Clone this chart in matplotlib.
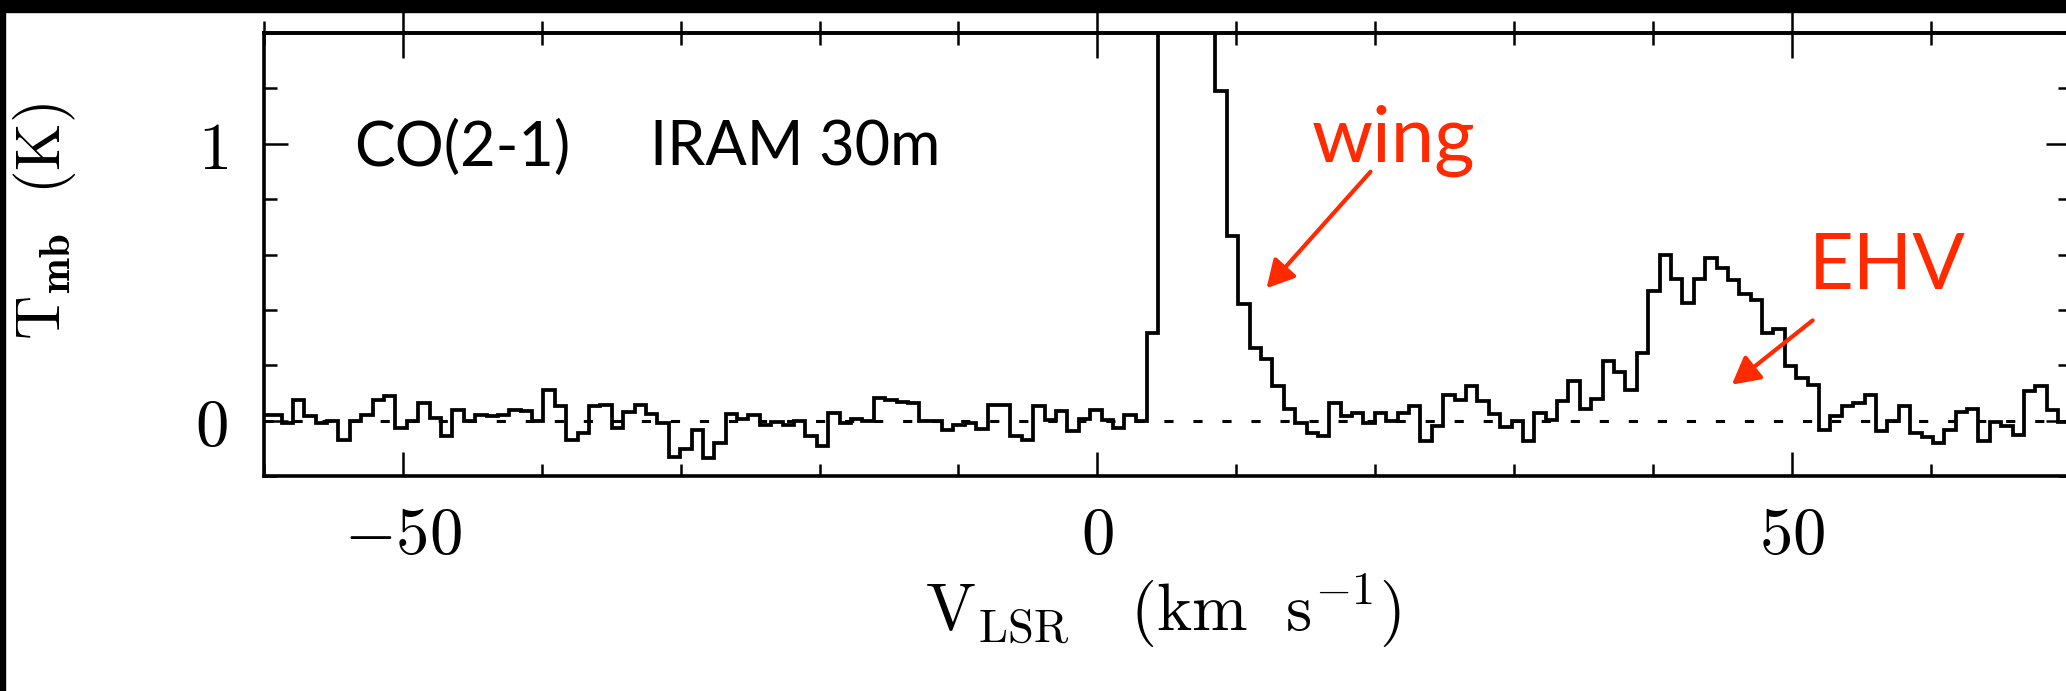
import numpy as np
import matplotlib
matplotlib.use("Agg")
import matplotlib.pyplot as plt
from matplotlib.patches import Rectangle
from matplotlib.ticker import MultipleLocator

# ---------------- data ----------------
v_start = -60.38      # km/s, left edge of first channel
dv = 0.82             # channel width, km/s
tmb = [
    0.020, 0.022, -0.008, 0.076, 0.016, -0.008, -0.002, -0.069, -0.002, 0.022,
    0.076, 0.090, -0.027, -0.002, 0.064, 0.010, -0.057, 0.040, 0.000, 0.022,
    0.016, 0.022, 0.040, 0.034, -0.002, 0.112, 0.052, -0.069, -0.045, 0.052,
    0.056, -0.027, 0.031, 0.058, 0.025, -0.008, -0.130, -0.103, -0.033, -0.136,
    -0.081, 0.025, 0.006, 0.022, -0.017, -0.006, -0.017, -0.002, -0.057, -0.093,
    0.028, -0.008, 0.006, 0.000, 0.082, 0.074, 0.068, 0.064, 0.000, -0.002,
    -0.033, -0.014, -0.008, -0.030, 0.056, 0.056, -0.054, -0.071, 0.052, 0.004,
    0.034, -0.039, 0.006, 0.040, 0.004, -0.027, 0.022, 0.000, 0.318, 1.900,
    3.600, 4.200, 3.400, 2.100, 1.190, 0.668, 0.420, 0.263, 0.221, 0.124,
    0.042, -0.008, -0.045, -0.054, 0.062, 0.016, 0.028, -0.008, 0.028, -0.002,
    0.028, 0.052, -0.072, -0.018, 0.092, 0.076, 0.124, 0.070, 0.025, -0.024,
    -0.002, -0.072, 0.028, 0.004, 0.070, 0.142, 0.042, 0.078, 0.215, 0.175,
    0.112, 0.243, 0.469, 0.598, 0.511, 0.426, 0.511, 0.586, 0.550, 0.507,
    0.457, 0.435, 0.315, 0.330, 0.197, 0.155, 0.127, -0.033, 0.016, 0.052,
    0.064, 0.094, -0.039, 0.000, 0.054, -0.045, -0.059, -0.081, -0.033, 0.030,
    0.042, -0.075, -0.006, -0.021, -0.051, 0.106, 0.124, 0.040, -0.006,
]
xlim = (-60, 70)
ylim = (-0.2, 1.4)
xticks = [-50, 0, 50]
xtick_labels = [r"$-50$", r"$0$", r"$50$"]
yticks = [0, 1]
ytick_labels = [r"$0$", r"$1$"]

RED = "#ff2a00"
plt.rcParams["mathtext.fontset"] = "cm"
plt.rcParams["font.family"] = ["Lato", "DejaVu Sans"]

W, H = 2066, 691
fig = plt.figure(figsize=(W / 100, H / 100), dpi=100)
ax_l, ax_r, ax_t, ax_b = 264, 2069.6, 33, 476
ax = fig.add_axes([ax_l / W, 1 - ax_b / H, (ax_r - ax_l) / W, (ax_b - ax_t) / H])

edges = v_start + dv * np.arange(len(tmb) + 1)
ax.stairs(tmb, edges, color="black", lw=2.7, baseline=None, zorder=3)
ax.axhline(0, color="black", lw=2.2, linestyle=(0, (3, 6.5)), zorder=2)

ax.set_xlim(*xlim)
ax.set_ylim(*ylim)
for s in ax.spines.values():
    s.set_linewidth(2.6)

ax.set_xticks(xticks)
ax.set_xticklabels(xtick_labels)
ax.set_yticks(yticks)
ax.set_yticklabels(ytick_labels)
ax.xaxis.set_minor_locator(MultipleLocator(10))
ax.yaxis.set_minor_locator(MultipleLocator(0.2))
ax.tick_params(which="both", direction="in", top=False, right=True, width=1.8,
               labelsize=48)
ax.tick_params(which="major", length=17)
ax.tick_params(which="minor", length=9)
ax.tick_params(axis="x", which="major", pad=20)
ax.tick_params(axis="y", which="major", pad=26)

top = ax.secondary_xaxis("top")
top.set_xticks(xticks)
top.xaxis.set_minor_locator(MultipleLocator(10))
top.tick_params(which="both", direction="inout", width=1.8, labeltop=False)
top.tick_params(which="major", length=36)
top.tick_params(which="minor", length=17)
top.spines["top"].set_linewidth(2.6)

# axis labels
fig.text(1163 / W, 1 - 611 / H,
         r"$\mathrm{V_{LSR}}\quad(\mathrm{km\ \ s^{-1}})$",
         ha="center", va="center", fontsize=48)
fig.text(45 / W, 1 - 221 / H,
         r"$\mathrm{T_{\mathbf{mb}}}\ \ (\mathrm{K})$",
         ha="center", va="center", rotation=90, fontsize=44)

# annotations
ax.text(-53.5, 0.92, "CO(2-1)", fontsize=44, ha="left", va="baseline")
ax.text(-32.2, 0.92, "IRAM 30m", fontsize=44, ha="left", va="baseline")
ax.text(15.4, 0.935, "wing", fontsize=56, color=RED, ha="left", va="baseline")
ax.text(51.2, 0.475, "EHV", fontsize=56, color=RED, ha="left", va="baseline")
arrow_style = "-|>,head_length=0.83,head_width=0.45"
ax.annotate("", xy=(12.18, 0.478), xytext=(19.67, 0.899),
            arrowprops=dict(arrowstyle=arrow_style, color=RED, lw=3,
                            mutation_scale=20, shrinkA=0, shrinkB=0))
ax.annotate("", xy=(45.68, 0.13), xytext=(51.5, 0.362),
            arrowprops=dict(arrowstyle=arrow_style, color=RED, lw=3,
                            mutation_scale=20, shrinkA=0, shrinkB=0))

# black frame remnants of the cropped page
fig.add_artist(Rectangle((0, 1 - 12 / H), 1, 12 / H, transform=fig.transFigure,
                         color="black", zorder=10))
fig.add_artist(Rectangle((0, 0), 4.5 / W, 1, transform=fig.transFigure,
                         color="black", zorder=10))

fig.savefig("out.png", dpi=100, facecolor="white")
